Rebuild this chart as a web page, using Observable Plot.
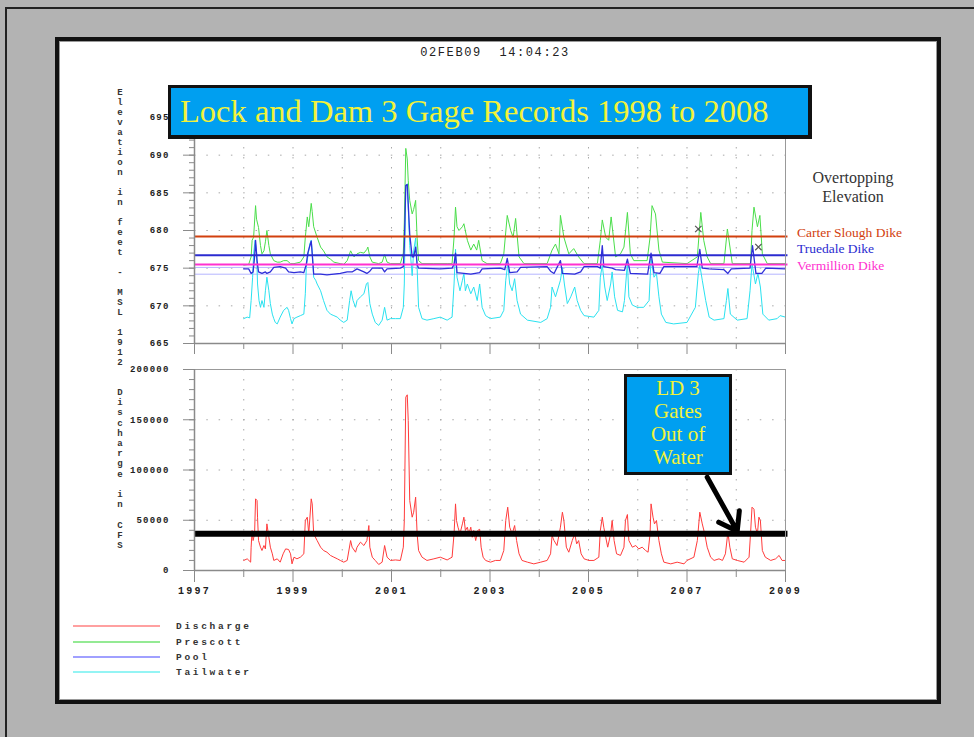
<!DOCTYPE html>
<html><head><meta charset="utf-8">
<script src="https://cdn.jsdelivr.net/npm/d3@7"></script>
<script src="https://cdn.jsdelivr.net/npm/@observablehq/plot@0.6"></script>
<style>
html,body{margin:0;padding:0}
body{width:974px;height:737px;background:#b3b3b3;position:relative;overflow:hidden}
.abs{position:absolute}
#outer{left:5px;top:7px;width:980px;height:740px;border-top:2px solid #222;border-left:2px solid #222}
#panel{left:55px;top:37px;width:886px;height:667px;box-sizing:border-box;background:#fff;border:4px solid #111;box-shadow:inset 0 0 0 1px #999}
#stamp{left:375px;top:46px;width:240px;text-align:center;font:12px "Liberation Mono",monospace;letter-spacing:1.6px;color:#222;white-space:pre;line-height:14px}
#title{left:168px;top:85px;width:644px;height:54px;box-sizing:border-box;background:#009ff0;border:3px solid #111;border-right-width:4px;border-bottom-width:4px;color:#f2f23a;font:32.5px "Liberation Serif",serif;line-height:46px;padding-left:9px;white-space:nowrap}
#note{left:624px;top:374px;width:108px;height:101px;box-sizing:border-box;background:#009ff0;border:3px solid #111;color:#f2f23a;font:21px "Liberation Serif",serif;line-height:23px;text-align:center}
.over{font:16px "Liberation Serif",serif;color:#333;text-align:center;width:120px;left:793px;line-height:19px}
.dike{font:13.5px "Liberation Serif",serif;left:797px;white-space:nowrap;line-height:16px}
.vt{font:bold 9px "Liberation Mono",monospace;color:#333;width:10px;text-align:center;line-height:10px;left:115px}
.leg{font:bold 9.5px "Liberation Mono",monospace;letter-spacing:2.7px;color:#333;left:176px;line-height:12px;white-space:nowrap}
.legline{left:73px;width:87px;height:2px}
.pw text{letter-spacing:1.2px}
.pw.bx g[aria-label="x-axis tick label"] text{letter-spacing:2.2px}
</style></head><body>
<div id="outer" class="abs"></div>
<div id="panel" class="abs"></div>
<div id="stamp" class="abs">02FEB09  14:04:23</div>
<div id="topwrap" class="abs pw" style="left:100px;top:100px"></div>
<div id="botwrap" class="abs pw bx" style="left:100px;top:360px"></div>
<div id="title" class="abs">Lock and Dam 3 Gage Records 1998 to 2008</div>
<div id="note" class="abs">LD 3<br>Gates<br>Out of<br>Water</div>
<div class="abs over" style="top:168px">Overtopping<br>Elevation</div>
<div id="dikes"></div>
<div id="vtitles"></div>
<div id="legend"></div>
<script>
// ---------- data ----------
const years = [1997,1998,1999,2000,2001,2002,2003,2004,2005,2006,2007,2008,2009];
const labeledYears = [1997,1999,2001,2003,2005,2007,2009];
const elevTicks = [665,670,675,680,685,690,695];
const flowTicks = [0,50000,100000,150000,200000];

const dikeNames = ["Carter Slough Dike","Truedale Dike","Vermillion Dike"];
const dikeElev = [679.2,676.7,675.5];
const poolLimits = [675.1,674.2];
const gatesOutFlow = 36500;
const noteArrowFrom = [2007.41,92800];
const noteArrowTo = [2008.02,39100];
const markers = [[2007.23,680.2],[2008.45,677.8]];

const seriesNames = ["Discharge","Prescott","Pool","Tailwater"];

const discharge = [[1998.00,10000],[1998.07,11600],[1998.14,8300],[1998.15,23200],[1998.17,39800],[1998.19,29800],[1998.22,36500],[1998.24,71300],[1998.27,69600],[1998.28,53050],[1998.30,29800],[1998.34,23200],[1998.37,19900],[1998.41,24850],[1998.44,21500],[1998.47,46400],[1998.51,33100],[1998.54,23200],[1998.58,16600],[1998.61,10000],[1998.68,11600],[1998.74,8300],[1998.80,16600],[1998.85,21500],[1998.91,20900],[1998.95,16600],[1998.98,6600],[1999.02,13250],[1999.08,11600],[1999.15,13250],[1999.22,16600],[1999.25,49750],[1999.29,53050],[1999.32,36500],[1999.37,71300],[1999.39,66300],[1999.42,36500],[1999.49,29800],[1999.56,23200],[1999.62,19900],[1999.69,18200],[1999.76,15000],[1999.83,13250],[1999.90,11600],[1999.96,10000],[2000.03,8300],[2000.10,10000],[2000.17,29800],[2000.20,23200],[2000.27,18200],[2000.30,23200],[2000.37,28200],[2000.44,24850],[2000.50,29800],[2000.54,44750],[2000.56,23200],[2000.61,13250],[2000.67,10000],[2000.74,6000],[2000.81,8300],[2000.86,24850],[2000.91,13250],[2000.98,10000],[2001.08,10500],[2001.18,10000],[2001.24,23200],[2001.26,49750],[2001.29,172500],[2001.32,174800],[2001.34,149250],[2001.37,69600],[2001.42,53050],[2001.45,58000],[2001.49,72950],[2001.52,36500],[2001.55,19900],[2001.62,13250],[2001.72,10000],[2001.86,11600],[2001.99,13250],[2002.13,10500],[2002.23,13250],[2002.27,36500],[2002.30,66300],[2002.32,49750],[2002.35,43100],[2002.39,36500],[2002.44,46400],[2002.47,53050],[2002.50,39800],[2002.54,43100],[2002.57,36500],[2002.61,43100],[2002.64,33100],[2002.67,39800],[2002.71,29800],[2002.75,39800],[2002.79,41000],[2002.82,23200],[2002.86,13250],[2002.91,10000],[2003.01,8300],[2003.11,10000],[2003.21,10000],[2003.28,19900],[2003.32,49750],[2003.36,63000],[2003.40,43100],[2003.45,36500],[2003.50,44750],[2003.54,29800],[2003.59,16600],[2003.65,10000],[2003.76,8300],[2003.89,6600],[2004.03,8300],[2004.16,10000],[2004.23,16600],[2004.26,34800],[2004.30,29800],[2004.36,24850],[2004.43,43100],[2004.47,58000],[2004.50,49750],[2004.55,23200],[2004.60,18200],[2004.67,29800],[2004.72,36500],[2004.76,26500],[2004.80,29800],[2004.85,16600],[2004.91,11600],[2005.01,10000],[2005.11,10000],[2005.21,13250],[2005.24,39800],[2005.28,53050],[2005.31,43100],[2005.35,33100],[2005.39,23200],[2005.45,36500],[2005.48,49750],[2005.52,29800],[2005.57,16600],[2005.65,15000],[2005.72,23200],[2005.75,49750],[2005.79,55700],[2005.82,29800],[2005.89,23200],[2005.96,24850],[2006.02,21500],[2006.09,23200],[2006.16,19900],[2006.21,18200],[2006.25,36500],[2006.27,66300],[2006.31,53050],[2006.34,46400],[2006.38,49750],[2006.43,29800],[2006.48,16600],[2006.53,8300],[2006.67,6600],[2006.80,8300],[2006.94,6600],[2007.00,10000],[2007.14,13250],[2007.21,29800],[2007.26,58000],[2007.31,46400],[2007.36,36500],[2007.41,23200],[2007.48,13250],[2007.55,10000],[2007.65,11600],[2007.72,10000],[2007.78,16600],[2007.83,38000],[2007.87,23200],[2007.92,11600],[2008.02,10000],[2008.16,8300],[2008.26,13250],[2008.29,36500],[2008.32,63000],[2008.36,61000],[2008.39,43100],[2008.43,36500],[2008.46,53050],[2008.49,49750],[2008.53,19900],[2008.59,13250],[2008.70,10000],[2008.80,11600],[2008.87,15000],[2008.93,10000],[2009.00,10000]];

const tailwater = [[1998.00,668.3],[1998.07,668.5],[1998.12,668.4],[1998.15,670.7],[1998.18,673.8],[1998.20,676.9],[1998.23,678.7],[1998.26,677.3],[1998.28,672.9],[1998.31,670.7],[1998.34,669.8],[1998.37,670.7],[1998.41,669.8],[1998.44,672.0],[1998.47,673.8],[1998.51,672.0],[1998.54,670.3],[1998.58,668.9],[1998.61,668.3],[1998.64,667.8],[1998.68,667.6],[1998.74,668.5],[1998.81,669.4],[1998.88,669.8],[1998.91,669.4],[1998.95,668.3],[1998.98,667.6],[1999.02,668.3],[1999.08,668.5],[1999.15,668.7],[1999.22,668.9],[1999.25,671.6],[1999.27,675.1],[1999.30,676.5],[1999.34,678.2],[1999.37,678.7],[1999.39,677.3],[1999.42,673.8],[1999.46,673.4],[1999.49,672.9],[1999.56,672.0],[1999.62,670.7],[1999.69,669.4],[1999.76,668.9],[1999.83,668.7],[1999.90,668.5],[1999.96,668.1],[2000.03,667.8],[2000.10,668.1],[2000.15,670.7],[2000.18,672.0],[2000.22,670.7],[2000.27,669.8],[2000.30,670.7],[2000.37,671.2],[2000.44,671.6],[2000.49,672.9],[2000.52,673.1],[2000.56,670.3],[2000.61,668.9],[2000.67,667.8],[2000.74,667.4],[2000.81,668.1],[2000.86,669.8],[2000.91,668.1],[2000.98,668.3],[2001.08,668.3],[2001.18,668.3],[2001.24,669.8],[2001.26,672.9],[2001.29,686.0],[2001.32,686.2],[2001.34,683.0],[2001.37,678.0],[2001.42,674.0],[2001.45,677.3],[2001.49,679.0],[2001.52,675.1],[2001.55,669.8],[2001.62,668.3],[2001.72,668.1],[2001.86,668.3],[2001.99,668.5],[2002.13,668.1],[2002.23,668.5],[2002.27,672.9],[2002.30,677.5],[2002.33,673.8],[2002.39,672.0],[2002.44,673.4],[2002.47,674.3],[2002.50,672.0],[2002.54,672.9],[2002.61,671.6],[2002.67,672.5],[2002.74,670.7],[2002.79,672.9],[2002.84,669.8],[2002.91,668.7],[2003.01,668.3],[2003.21,668.5],[2003.28,669.4],[2003.32,673.4],[2003.36,675.6],[2003.40,672.9],[2003.45,672.0],[2003.50,673.6],[2003.55,670.7],[2003.62,668.9],[2003.76,668.1],[2004.03,667.8],[2004.16,668.3],[2004.23,669.8],[2004.26,672.5],[2004.33,671.2],[2004.43,673.4],[2004.47,675.1],[2004.51,672.9],[2004.57,670.3],[2004.64,671.2],[2004.72,672.5],[2004.77,670.7],[2004.84,669.4],[2004.91,668.7],[2005.11,668.5],[2005.21,669.4],[2005.24,673.8],[2005.28,675.4],[2005.33,672.5],[2005.38,670.7],[2005.45,672.9],[2005.48,674.5],[2005.53,671.2],[2005.59,669.4],[2005.69,669.2],[2005.73,670.7],[2005.79,675.8],[2005.82,671.2],[2005.89,670.1],[2005.99,669.8],[2006.12,669.8],[2006.23,670.7],[2006.27,676.2],[2006.33,673.8],[2006.38,674.3],[2006.43,671.2],[2006.48,668.9],[2006.57,667.8],[2006.73,667.6],[2007.00,667.8],[2007.17,669.8],[2007.23,674.3],[2007.26,675.4],[2007.31,673.4],[2007.38,670.7],[2007.45,668.5],[2007.55,668.1],[2007.75,668.3],[2007.80,670.7],[2007.83,672.3],[2007.88,668.9],[2008.02,668.1],[2008.22,668.3],[2008.28,672.0],[2008.32,675.6],[2008.39,672.9],[2008.44,674.3],[2008.49,672.5],[2008.54,668.9],[2008.66,668.1],[2008.83,668.3],[2008.89,668.7],[2009.00,668.5]];

const prescott = [[1998.00,675.4],[1998.10,675.5],[1998.15,676.5],[1998.17,678.7],[1998.20,679.1],[1998.24,683.3],[1998.26,681.5],[1998.30,680.4],[1998.34,678.0],[1998.37,676.9],[1998.41,677.3],[1998.44,678.5],[1998.47,680.0],[1998.51,678.0],[1998.54,676.9],[1998.61,676.0],[1998.68,675.8],[1998.74,675.8],[1998.81,676.0],[1998.88,676.0],[1998.95,675.6],[1999.02,675.6],[1999.15,675.8],[1999.22,676.5],[1999.25,679.1],[1999.29,681.8],[1999.32,680.5],[1999.37,683.6],[1999.39,682.5],[1999.42,680.5],[1999.49,679.1],[1999.56,677.8],[1999.62,677.3],[1999.69,676.5],[1999.76,676.2],[1999.83,675.8],[1999.96,675.6],[2000.03,675.5],[2000.10,676.0],[2000.17,677.3],[2000.20,676.9],[2000.24,676.5],[2000.30,676.9],[2000.37,677.1],[2000.44,677.0],[2000.50,677.5],[2000.52,677.8],[2000.56,676.5],[2000.61,675.8],[2000.74,675.6],[2000.81,675.8],[2000.86,676.8],[2000.91,675.8],[2000.98,675.6],[2001.18,675.6],[2001.24,677.0],[2001.26,681.0],[2001.29,690.9],[2001.32,689.5],[2001.34,686.6],[2001.37,684.0],[2001.42,682.2],[2001.45,682.8],[2001.49,684.0],[2001.52,679.0],[2001.55,676.0],[2001.62,675.6],[2001.86,675.6],[2002.13,675.6],[2002.23,675.6],[2002.27,679.1],[2002.30,683.1],[2002.33,680.5],[2002.37,680.0],[2002.44,680.5],[2002.47,680.9],[2002.54,678.7],[2002.61,677.4],[2002.67,678.2],[2002.73,677.4],[2002.77,678.7],[2002.84,676.0],[2002.94,675.6],[2003.21,675.6],[2003.28,676.9],[2003.35,682.0],[2003.42,680.0],[2003.47,679.1],[2003.52,681.6],[2003.59,676.5],[2003.69,675.6],[2004.16,675.6],[2004.26,677.4],[2004.33,678.2],[2004.40,676.9],[2004.43,682.0],[2004.50,679.1],[2004.60,676.9],[2004.70,677.6],[2004.80,676.5],[2004.91,675.6],[2005.18,675.6],[2005.24,678.7],[2005.28,681.4],[2005.35,679.1],[2005.41,678.7],[2005.46,681.8],[2005.55,676.5],[2005.65,676.9],[2005.72,677.8],[2005.79,682.4],[2005.85,676.9],[2005.92,676.0],[2006.19,676.0],[2006.25,679.1],[2006.29,683.3],[2006.36,682.2],[2006.43,677.4],[2006.50,675.8],[2007.00,675.6],[2007.21,676.5],[2007.28,682.4],[2007.34,678.7],[2007.41,676.5],[2007.48,675.6],[2007.75,675.6],[2007.82,680.2],[2007.92,675.6],[2008.29,675.6],[2008.32,680.0],[2008.36,683.1],[2008.43,680.5],[2008.48,682.0],[2008.53,676.9],[2008.63,675.6],[2009.00,675.6]];

const pool = [[1998.00,674.9],[1998.10,674.9],[1998.15,674.3],[1998.19,674.5],[1998.22,676.5],[1998.24,678.7],[1998.27,676.0],[1998.30,674.5],[1998.37,674.3],[1998.44,674.5],[1998.47,674.3],[1998.54,674.5],[1998.61,675.1],[1998.74,675.2],[1998.85,675.0],[1998.91,674.5],[1999.02,674.4],[1999.15,674.5],[1999.22,674.4],[1999.27,675.5],[1999.30,677.0],[1999.37,678.6],[1999.40,676.0],[1999.42,674.2],[1999.56,674.2],[1999.69,674.1],[1999.83,674.2],[1999.96,674.3],[2000.10,674.5],[2000.20,674.5],[2000.30,674.9],[2000.44,674.5],[2000.50,674.3],[2000.56,674.6],[2000.61,675.0],[2000.81,675.0],[2000.86,674.5],[2000.91,674.9],[2001.18,675.0],[2001.24,675.2],[2001.26,678.0],[2001.29,686.0],[2001.32,686.1],[2001.34,683.5],[2001.37,679.5],[2001.42,676.5],[2001.45,676.5],[2001.49,677.8],[2001.52,675.5],[2001.55,675.0],[2001.99,674.9],[2002.23,675.0],[2002.27,675.5],[2002.30,677.0],[2002.33,674.4],[2002.47,674.3],[2002.61,674.2],[2002.79,674.4],[2002.84,674.9],[2003.21,675.0],[2003.30,674.8],[2003.35,676.3],[2003.40,674.4],[2003.55,674.5],[2003.62,675.1],[2004.16,675.2],[2004.23,674.6],[2004.30,674.3],[2004.43,676.0],[2004.47,674.3],[2004.72,674.2],[2004.84,674.5],[2004.91,675.2],[2005.18,675.2],[2005.24,675.0],[2005.28,678.0],[2005.31,675.2],[2005.48,675.0],[2005.55,674.8],[2005.73,674.7],[2005.79,676.2],[2005.85,674.3],[2006.20,674.2],[2006.27,677.0],[2006.33,674.4],[2006.45,674.3],[2006.53,675.2],[2007.20,675.2],[2007.26,677.5],[2007.31,675.0],[2007.45,674.9],[2007.75,674.8],[2007.83,674.3],[2007.90,674.9],[2008.28,675.0],[2008.33,678.0],[2008.40,674.3],[2008.52,674.3],[2008.60,675.0],[2009.00,674.9]];

// ---------- styling ----------
const colDis = "#ff3b3b", colPre = "#4ade4a", colPool = "#2f2fd8", colTail = "#2ae2f0";
const legCols = ["#ffa0a0","#94ea94","#a0a0ff","#94f4f4"];
const dikeColors = ["#d2400e","#2b2bd0","#ff30d0"];
const axisCol = "#8a8a8a", gridCol = "#a8a8a8";
const X = d => d[0], Y = d => d[1];
const odd = years.filter(y => y % 2 === 1), even = years.filter(y => y % 2 === 0);
const inner = years.slice(1, -1);
const baseStyle = {background:"transparent", fontFamily:"Liberation Mono, monospace", fontSize:"9px", fontWeight:"bold", color:"#222", overflow:"visible"};

const topPlot = Plot.plot({
  width:700, height:265, marginLeft:94, marginRight:15, marginTop:17, marginBottom:22,
  x:{domain:[1997,2009], axis:null}, y:{domain:[665,695], axis:null},
  style: baseStyle,
  marks:[
    Plot.ruleX(inner, {stroke:gridCol, strokeDasharray:"1.5 8.5"}),
    Plot.ruleY(elevTicks.slice(1,-1), {stroke:gridCol, strokeDasharray:"1.5 10.8"}),
    Plot.ruleY(poolLimits, {x1:1997, x2:2009, stroke:"#b6b6ff", strokeWidth:1}),
    Plot.line(tailwater, {x:X, y:Y, stroke:colTail, strokeWidth:1}),
    Plot.line(prescott, {x:X, y:Y, stroke:colPre, strokeWidth:1}),
    Plot.line(pool, {x:X, y:Y, stroke:colPool, strokeWidth:1.3}),
    Plot.ruleY([dikeElev[0]], {x1:1997, x2:2009.05, stroke:dikeColors[0], strokeWidth:2}),
    Plot.ruleY([dikeElev[1]], {x1:1997, x2:2009.05, stroke:dikeColors[1], strokeWidth:2}),
    Plot.ruleY([dikeElev[2]], {x1:1997, x2:2009.05, stroke:dikeColors[2], strokeWidth:2}),
    Plot.dot(markers, {x:X, y:Y, symbol:"times", r:3, stroke:"#555", strokeWidth:1.2}),
    Plot.ruleX([2009], {stroke:"#999"}),
    Plot.ruleY([695], {stroke:"#999"}),
    Plot.axisY(d3.range(665, 696, 1), {tickSize:5, tickFormat:() => "", stroke:axisCol, label:null}),
    Plot.axisY(elevTicks, {tickSize:11, tickPadding:14, tickFormat:d => String(d), stroke:axisCol, fill:"#222", label:null}),
    Plot.axisX(odd, {anchor:"bottom", tickSize:11, tickFormat:() => "", stroke:axisCol, label:null}),
    Plot.axisX(even, {anchor:"bottom", tickSize:6, tickFormat:() => "", stroke:axisCol, label:null}),
    Plot.ruleX([1997], {stroke:axisCol, strokeWidth:1.5}),
    Plot.ruleY([665], {stroke:axisCol, strokeWidth:1.5})
  ]
});
document.getElementById("topwrap").append(topPlot);

const botPlot = Plot.plot({
  width:700, height:240, marginLeft:94, marginRight:15, marginTop:9, marginBottom:30,
  x:{domain:[1997,2009], axis:null}, y:{domain:[0,200000], axis:null},
  style: baseStyle,
  marks:[
    Plot.ruleX(inner, {stroke:gridCol, strokeDasharray:"1.5 8.5"}),
    Plot.ruleY(flowTicks.slice(1,-1), {stroke:gridCol, strokeDasharray:"1.5 10.8"}),
    Plot.line(discharge, {x:X, y:Y, stroke:colDis, strokeWidth:1}),
    Plot.ruleY([gatesOutFlow], {x1:1997, x2:2009.05, stroke:"#000", strokeWidth:6}),
    Plot.arrow([[noteArrowFrom, noteArrowTo]], {x1:d => d[0][0], y1:d => d[0][1], x2:d => d[1][0], y2:d => d[1][1], stroke:"#000", strokeWidth:5, headLength:10, headAngle:70}),
    Plot.ruleX([2009], {stroke:"#999"}),
    Plot.ruleY([200000], {stroke:"#999"}),
    Plot.axisY(d3.range(0, 200001, 10000), {tickSize:5, tickFormat:() => "", stroke:axisCol, label:null}),
    Plot.axisY(flowTicks, {tickSize:11, tickPadding:14, tickFormat:d => String(d), stroke:axisCol, fill:"#222", label:null}),
    Plot.axisX(labeledYears, {anchor:"bottom", tickSize:12, tickPadding:4, tickFormat:d => String(d), stroke:axisCol, fill:"#222", fontSize:10, label:null}),
    Plot.axisX(even, {anchor:"bottom", tickSize:7, tickFormat:() => "", stroke:axisCol, label:null}),
    Plot.ruleX([1997], {stroke:axisCol, strokeWidth:1.5}),
    Plot.ruleY([0], {stroke:axisCol, strokeWidth:1.5})
  ]
});
document.getElementById("botwrap").append(botPlot);

// ---------- dike labels ----------
const dk = document.getElementById("dikes");
const dikeTops = [225, 241, 258];
dikeNames.forEach((n, i) => {
  const d = document.createElement("div");
  d.className = "abs dike"; d.style.top = dikeTops[i] + "px"; d.style.color = dikeColors[i];
  d.textContent = n; dk.append(d);
});

// ---------- stacked vertical axis titles ----------
const vt = document.getElementById("vtitles");
function stacked(text, y0, step) {
  [...text].forEach((ch, i) => {
    if (ch === " ") return;
    const d = document.createElement("div");
    d.className = "abs vt"; d.style.top = (y0 + i * step - 5) + "px";
    d.textContent = ch; vt.append(d);
  });
}
stacked("Elevation in feet - MSL 1912", 93, 10.0);
stacked("Discharge in CFS", 393, 10.2);

// ---------- legend ----------
const lg = document.getElementById("legend");
const legY = [626, 642, 657, 672];
seriesNames.forEach((n, i) => {
  const l = document.createElement("div");
  l.className = "abs legline"; l.style.top = (legY[i] - 1) + "px";
  l.style.background = legCols[i]; lg.append(l);
  const t = document.createElement("div");
  t.className = "abs leg"; t.style.top = (legY[i] - 5) + "px"; t.textContent = n; lg.append(t);
});
</script>
</body></html>
